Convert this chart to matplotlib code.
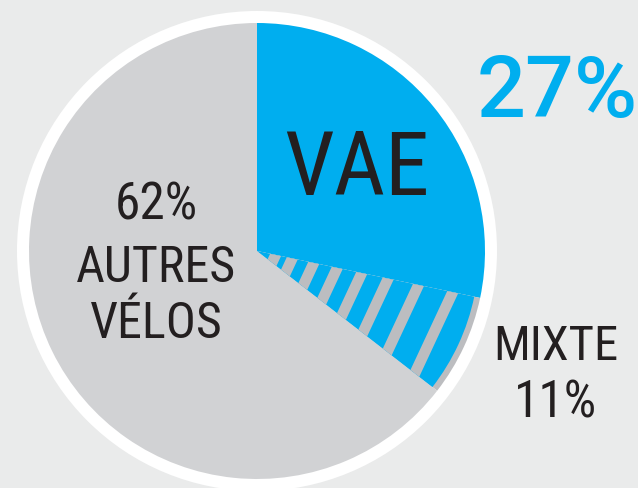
import numpy as np
import matplotlib
matplotlib.use("Agg")
import matplotlib.pyplot as plt
from matplotlib.patches import Circle, Wedge, Polygon

# slice shares as drawn (clockwise from 12 o'clock) and their printed labels
categories = ["VAE", "MIXTE", "AUTRES VÉLOS"]
shares = [28.3, 7.2, 64.5]
label_vae = "27%"
label_mixte = "11%"
label_autres = "62%"

BG = "#eaebeb"
BLUE = "#00aeef"
GRAY = "#d1d2d4"
STRIPE = "#bcbdc0"
DARK = "#231f20"
FONT = ["Roboto Condensed", "DejaVu Sans"]

W, H = 638, 489
fig = plt.figure(figsize=(W / 100, H / 100), dpi=100)
fig.patch.set_facecolor(BG)
ax = fig.add_axes([0, 0, 1, 1])

cx, cy, r = 257, 237, 228

ax.add_patch(Circle((cx, cy), r + 12, facecolor="white", edgecolor="none", zorder=0))

wedges, _ = ax.pie(shares, center=(cx, cy), radius=r, startangle=90,
                   counterclock=False, colors=[BLUE, STRIPE, GRAY],
                   wedgeprops=dict(linewidth=0), frame=True)
ax.set_xlim(0, W)
ax.set_ylim(0, H)
ax.set_aspect("equal")
ax.axis("off")

# mixte slice: blue inner part with grey diagonal stripes
mix = wedges[1]
inner = Wedge((cx, cy), r - 6, mix.theta1, mix.theta2, facecolor=BLUE,
              edgecolor="none", zorder=3)
ax.add_patch(inner)

top = np.radians(mix.theta2)
ux, uy = np.cos(top), np.sin(top)
slope = np.radians(65)
dx, dy = np.cos(slope), np.sin(slope)
stripe_pos = [19, 36, 58, 82, 107, 134, 165, 200, 238]
half = 6
for d in stripe_pos:
    px, py = cx + d * ux, cy + d * uy
    pts = [(px - half + dx * 300, py + dy * 300), (px + half + dx * 300, py + dy * 300),
           (px + half - dx * 300, py - dy * 300), (px - half - dx * 300, py - dy * 300)]
    s = Polygon(pts, closed=True, facecolor=STRIPE, edgecolor="none", zorder=4)
    ax.add_patch(s)
    s.set_clip_path(inner)

ax.text(557, 372, label_vae, color=BLUE, fontsize=62, fontweight="medium",
        family=["Roboto", "DejaVu Sans"], ha="center", va="baseline")
ax.text(357, 294, categories[0], color=DARK, fontsize=64, family=FONT,
        ha="center", va="baseline", zorder=5)
ax.text(156, 269, label_autres, color=DARK, fontsize=37, family=FONT,
        ha="center", va="baseline", zorder=5)
ax.text(156, 207, "AUTRES", color=DARK, fontsize=36, family=FONT,
        ha="center", va="baseline", zorder=5)
ax.text(156, 151, "VÉLOS", color=DARK, fontsize=36, family=FONT,
        ha="center", va="baseline", zorder=5)
ax.text(556, 129, categories[1], color=DARK, fontsize=35, family=FONT,
        ha="center", va="baseline", zorder=5)
ax.text(556, 71, label_mixte, color=DARK, fontsize=37, family=FONT,
        ha="center", va="baseline", zorder=5)

fig.savefig("out.png", dpi=100, facecolor=BG)
